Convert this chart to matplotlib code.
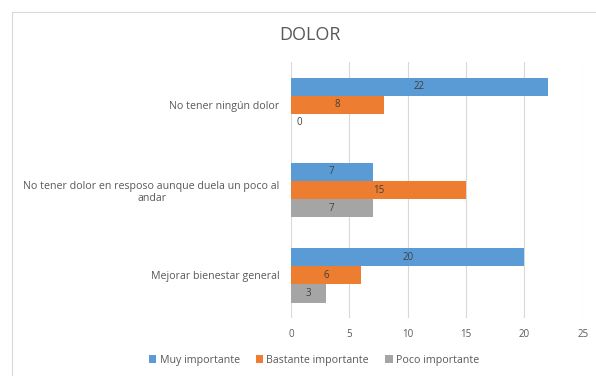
import numpy as np
import matplotlib.pyplot as plt
from matplotlib.patches import Rectangle

# Datos
categorias = ['No tener ningún dolor',
              'No tener dolor en resposo aunque duela un poco al\nandar',
              'Mejorar bienestar general']
muy_importante = [22, 7, 20]
bastante_importante = [8, 15, 6]
poco_importante = [0, 7, 3]
series = ['Muy importante', 'Bastante importante', 'Poco importante']
colores = ['#5B9BD5', '#ED7D31', '#A5A5A5']

plt.rcParams['font.family'] = ['Open Sans', 'DejaVu Sans']

fig = plt.figure(figsize=(5.96, 3.76), dpi=100)
ax = fig.add_axes([0.488, 0.154, 0.49, 0.681])

# Marco del gráfico
fig.patches.append(Rectangle((12 / 596, -0.01), 1.0, 1 - 12 / 376 + 0.01,
                             transform=fig.transFigure, fill=False,
                             edgecolor='#D9D9D9', linewidth=0.8))

y = np.arange(len(categorias))
h = 0.212
valores = [muy_importante, bastante_importante, poco_importante]
for i, (vals, nombre, color) in enumerate(zip(valores, series, colores)):
    pos = y + (i - 1) * h
    ax.barh(pos, vals, height=h, color=color, label=nombre, zorder=3)
    for p, v in zip(pos, vals):
        if v == 0:
            ax.text(0.5, p, str(v), ha='left', va='center', fontsize=7, color='#404040', zorder=4)
        else:
            ax.text(v / 2, p, str(v), ha='center', va='center', fontsize=7, color='#404040', zorder=4)

ax.set_ylim(2.5, -0.5)
ax.set_xlim(0, 25)
ax.set_xticks([0, 5, 10, 15, 20, 25])
ax.set_yticks(y)
ax.set_yticklabels(categorias, ha='right', multialignment='center', fontsize=7.7, color='#595959')
ax.tick_params(axis='y', length=0, pad=8)
ax.tick_params(axis='x', length=0, labelsize=7, labelcolor='#595959', pad=8)
ax.grid(axis='x', color='#D9D9D9', linewidth=0.8, zorder=0)
for s in ax.spines.values():
    s.set_visible(False)

fig.text(310 / 596, 1 - 35 / 376, 'DOLOR', ha='center', va='center', fontsize=13, color='#595959')

ax.legend(loc='center', bbox_to_anchor=(314 / 596, 1 - 360 / 376), bbox_transform=fig.transFigure,
          ncol=3, frameon=False, fontsize=7.7, labelcolor='#595959', handlelength=0.7,
          handleheight=0.7, handletextpad=0.3, columnspacing=1.5)

plt.savefig('out.png', dpi=100)
